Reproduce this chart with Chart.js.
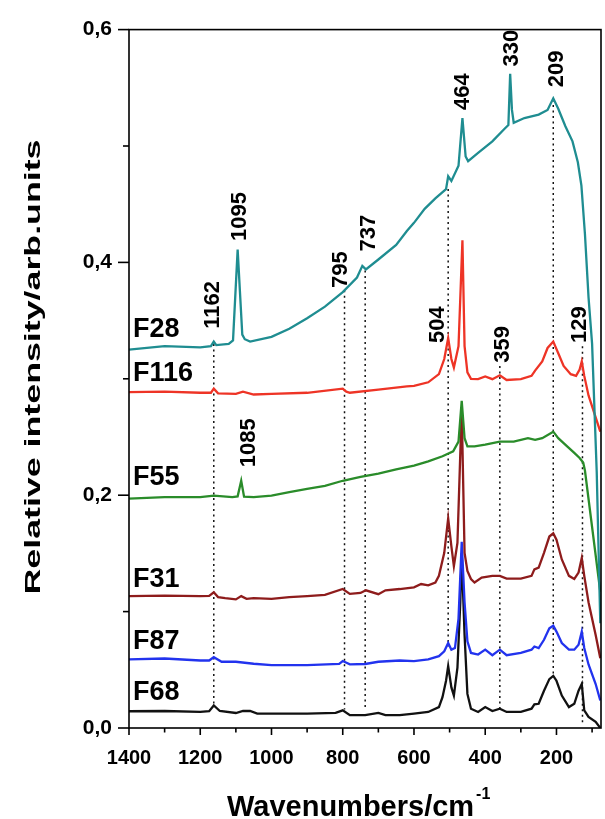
<!DOCTYPE html>
<html>
<head>
<meta charset="utf-8">
<script src="https://cdn.jsdelivr.net/npm/chart.js@4.4.1/dist/chart.umd.min.js"></script>
<style>
  body { margin: 0; background: #fff; }
  #wrap { width: 605px; height: 819px; }
</style>
</head>
<body>
<div id="wrap"><canvas id="myChart" width="605" height="819"></canvas></div>
<script>
// spectra (wavenumber cm-1, relative intensity)
const f28X = [1400, 1300, 1200, 1170, 1162, 1155, 1120, 1108, 1095, 1082, 1075, 1060, 1000, 950, 900, 850, 800, 760, 745, 735, 700, 650, 620, 600, 570, 540, 510, 504, 495, 475, 464, 455, 448, 420, 380, 345, 335, 330, 325, 320, 290, 250, 225, 209, 195, 175, 155, 140, 130, 120, 110, 100, 87, 77];
const f28Y = [0.325, 0.328, 0.327, 0.328, 0.332, 0.329, 0.330, 0.333, 0.411, 0.338, 0.334, 0.332, 0.336, 0.343, 0.352, 0.362, 0.3745, 0.387, 0.397, 0.394, 0.4025, 0.415, 0.427, 0.434, 0.446, 0.455, 0.463, 0.474, 0.470, 0.483, 0.524, 0.491, 0.487, 0.494, 0.504, 0.515, 0.518, 0.562, 0.531, 0.520, 0.524, 0.527, 0.531, 0.541, 0.532, 0.517, 0.504, 0.486, 0.466, 0.424, 0.370, 0.330, 0.220, 0.090];

const f116X = [1400, 1300, 1200, 1170, 1162, 1150, 1100, 1080, 1050, 1000, 900, 800, 790, 780, 700, 620, 600, 560, 530, 515, 504, 495, 488, 475, 464, 458, 450, 440, 420, 400, 380, 359, 340, 300, 270, 260, 240, 225, 209, 195, 180, 160, 145, 135, 129, 122, 110, 95, 77];
const f116Y = [0.2885, 0.289, 0.288, 0.288, 0.2915, 0.2875, 0.287, 0.289, 0.2865, 0.287, 0.288, 0.2915, 0.289, 0.288, 0.2907, 0.2935, 0.294, 0.297, 0.304, 0.317, 0.335, 0.317, 0.3097, 0.328, 0.419, 0.328, 0.3055, 0.300, 0.2997, 0.302, 0.2997, 0.303, 0.299, 0.2997, 0.3025, 0.307, 0.315, 0.3265, 0.332, 0.322, 0.311, 0.304, 0.3025, 0.308, 0.315, 0.3025, 0.2857, 0.2715, 0.2546];

const f55X = [1400, 1300, 1200, 1162, 1110, 1095, 1085, 1077, 1050, 1000, 950, 900, 850, 800, 750, 700, 650, 600, 560, 520, 490, 475, 466, 458, 450, 430, 400, 359, 320, 280, 260, 240, 209, 195, 170, 150, 135, 125, 120, 77];
const f55Y = [0.197, 0.1984, 0.1984, 0.1997, 0.1984, 0.199, 0.2124, 0.1988, 0.1984, 0.1997, 0.2026, 0.2054, 0.208, 0.2124, 0.2158, 0.2186, 0.2222, 0.2255, 0.229, 0.2335, 0.2377, 0.246, 0.281, 0.249, 0.242, 0.242, 0.2434, 0.246, 0.246, 0.249, 0.2476, 0.249, 0.2546, 0.249, 0.242, 0.2364, 0.232, 0.228, 0.221, 0.117];

const f31X = [1400, 1300, 1200, 1175, 1162, 1150, 1130, 1100, 1085, 1070, 1050, 1000, 950, 900, 850, 800, 780, 750, 735, 700, 680, 640, 600, 580, 560, 540, 530, 515, 504, 495, 488, 478, 466, 458, 450, 440, 430, 410, 380, 359, 340, 300, 270, 262, 250, 235, 220, 209, 200, 185, 165, 150, 138, 129, 122, 110, 90, 77];
const f31Y = [0.1133, 0.1138, 0.1133, 0.1135, 0.1166, 0.1125, 0.1116, 0.1105, 0.1133, 0.111, 0.1116, 0.111, 0.1124, 0.1133, 0.1144, 0.1194, 0.1152, 0.116, 0.1183, 0.115, 0.1183, 0.1194, 0.1209, 0.1237, 0.1225, 0.125, 0.1307, 0.1505, 0.180, 0.156, 0.139, 0.159, 0.274, 0.1505, 0.135, 0.128, 0.125, 0.1293, 0.1307, 0.1307, 0.1284, 0.1284, 0.1307, 0.1363, 0.1378, 0.1505, 0.1645, 0.1673, 0.1617, 0.1448, 0.1307, 0.128, 0.1335, 0.146, 0.1307, 0.108, 0.080, 0.060];

const f87X = [1400, 1300, 1200, 1175, 1162, 1140, 1100, 1050, 1000, 900, 810, 800, 780, 737, 700, 640, 600, 560, 530, 515, 504, 495, 485, 475, 466, 458, 450, 440, 420, 400, 380, 359, 340, 300, 270, 262, 250, 235, 220, 209, 200, 185, 165, 150, 138, 129, 122, 110, 90, 77];
const f87Y = [0.0589, 0.0597, 0.058, 0.058, 0.0608, 0.0569, 0.0569, 0.0552, 0.054, 0.054, 0.055, 0.0575, 0.0547, 0.055, 0.0569, 0.058, 0.0575, 0.0589, 0.0617, 0.0659, 0.073, 0.0673, 0.0687, 0.094, 0.160, 0.108, 0.0744, 0.0645, 0.0631, 0.0673, 0.0625, 0.0673, 0.0625, 0.0645, 0.0673, 0.070, 0.0687, 0.0758, 0.0856, 0.0879, 0.0828, 0.073, 0.0673, 0.0673, 0.0716, 0.0828, 0.0687, 0.0546, 0.0378, 0.0237];

const f68X = [1400, 1300, 1200, 1175, 1162, 1145, 1100, 1080, 1060, 1040, 1000, 900, 820, 800, 780, 737, 700, 680, 640, 600, 560, 530, 520, 510, 504, 495, 488, 478, 470, 466, 458, 450, 440, 420, 400, 380, 359, 340, 300, 270, 262, 250, 235, 220, 209, 200, 185, 165, 150, 138, 129, 122, 110, 90, 77];
const f68Y = [0.0144, 0.0146, 0.0138, 0.0145, 0.0194, 0.0146, 0.0129, 0.0146, 0.0146, 0.0124, 0.0124, 0.0124, 0.013, 0.0152, 0.011, 0.011, 0.0129, 0.011, 0.011, 0.0124, 0.0138, 0.018, 0.0265, 0.0406, 0.0532, 0.0349, 0.0279, 0.0518, 0.108, 0.150, 0.080, 0.0293, 0.0166, 0.0138, 0.018, 0.0146, 0.0166, 0.0138, 0.0138, 0.0166, 0.0203, 0.0208, 0.032, 0.042, 0.0448, 0.0406, 0.0279, 0.018, 0.0208, 0.032, 0.0378, 0.0152, 0.0096, 0.0053, 0.0];

const seriesNames = ["F28", "F116", "F55", "F31", "F87", "F68"];
const seriesLabelY = [0.3423, 0.3042, 0.2155, 0.1276, 0.0744, 0.0304];

// dotted guide lines at band positions
const guideX = [1162, 795, 737, 504, 359, 209, 127];
const guideTop = [0.330, 0.376, 0.393, 0.463, 0.311, 0.540, 0.328];
const guideBottom = [0.018, 0.016, 0.015, 0.070, 0.017, 0.045, 0.004];

// rotated band labels (text, centre position in data units)
const peakText = ["1162", "1095", "795", "737", "464", "330", "209", "504", "359", "129", "1085"];
const peakX = [1164, 1088, 805, 726, 462, 325, 198, 532, 350, 134, 1063];
const peakY = [0.3634, 0.4394, 0.3938, 0.4251, 0.5468, 0.584, 0.5662, 0.3465, 0.3296, 0.3465, 0.2451];

const xMajor = [1400, 1200, 1000, 800, 600, 400, 200];
const xMinor = [1300, 1100, 900, 700, 500, 300, 100];
const yMajor = [0, 0.2, 0.4, 0.6];
const yMinor = [0.1, 0.3, 0.5];

const colors = ["#1f8d91", "#ee3426", "#2a8c2a", "#8e1c1c", "#2233ee", "#111111"];
const FONT = '"Liberation Sans", Arial, sans-serif';

const pts = (xs, ys) => xs.map((x, i) => ({ x: x, y: ys[i] }));
const allX = [f28X, f116X, f55X, f31X, f87X, f68X];
const allY = [f28Y, f116Y, f55Y, f31Y, f87Y, f68Y];

const datasets = seriesNames.map((name, i) => ({
  label: name,
  data: pts(allX[i], allY[i]),
  borderColor: colors[i],
  borderWidth: 2.3,
  pointRadius: 0,
  tension: 0,
  fill: false,
}));

guideX.forEach((gx, i) => {
  datasets.push({
    label: "guide" + gx,
    data: [{ x: gx, y: guideTop[i] }, { x: gx, y: guideBottom[i] }],
    borderColor: "#111",
    borderWidth: 1.5,
    borderDash: [2, 3.5],
    pointRadius: 0,
    fill: false,
  });
});

const decor = {
  id: "decor",
  afterDraw(chart) {
    const { ctx, chartArea: a, scales: { x, y } } = chart;
    ctx.save();
    ctx.strokeStyle = "#000";
    ctx.lineWidth = 1.6;
    ctx.strokeRect(a.left, a.top, a.right - a.left, a.bottom - a.top);

    const tick = (x1, y1, x2, y2) => {
      ctx.beginPath(); ctx.moveTo(x1, y1); ctx.lineTo(x2, y2); ctx.stroke();
    };
    xMajor.forEach(v => { const p = x.getPixelForValue(v); tick(p, a.bottom, p, a.bottom + 7); });
    xMinor.forEach(v => { const p = x.getPixelForValue(v); tick(p, a.bottom, p, a.bottom + 4.5); });
    yMajor.forEach(v => { const p = y.getPixelForValue(v); tick(a.left, p, a.left - 11, p); });
    yMinor.forEach(v => { const p = y.getPixelForValue(v); tick(a.left, p, a.left - 6, p); });

    ctx.fillStyle = "#000";
    // band labels
    ctx.font = "bold 22px " + FONT;
    ctx.textAlign = "center";
    ctx.textBaseline = "middle";
    peakText.forEach((t, i) => {
      ctx.save();
      ctx.translate(x.getPixelForValue(peakX[i]), y.getPixelForValue(peakY[i]));
      ctx.rotate(-Math.PI / 2);
      ctx.fillText(t, 0, 0);
      ctx.restore();
    });

    // sample names
    ctx.font = "bold 27px " + FONT;
    ctx.textAlign = "left";
    seriesNames.forEach((n, i) => {
      ctx.fillText(n, a.left + 4, y.getPixelForValue(seriesLabelY[i]));
    });

    // x title with superscript
    ctx.textBaseline = "alphabetic";
    ctx.font = "bold 29px " + FONT;
    const main = "Wavenumbers/cm";
    ctx.fillText(main, 227, 816);
    const w = ctx.measureText(main).width;
    ctx.font = "bold 16px " + FONT;
    ctx.fillText("-1", 227 + w + 2, 799);

    // y title, stretched along its length like the original
    ctx.save();
    ctx.translate(34, 367);
    ctx.rotate(-Math.PI / 2);
    ctx.font = "bold 22px " + FONT;
    ctx.textAlign = "center";
    ctx.textBaseline = "middle";
    const yt = "Relative intensity/arb.units";
    ctx.scale(455 / ctx.measureText(yt).width, 1);
    ctx.fillText(yt, 0, 0);
    ctx.restore();

    ctx.restore();
  },
};

new Chart(document.getElementById("myChart"), {
  type: "line",
  data: { datasets },
  options: {
    responsive: false,
    animation: false,
    layout: { padding: { top: 18, right: 4, left: 0, bottom: 0 } },
    plugins: { legend: { display: false }, tooltip: { enabled: false } },
    scales: {
      x: {
        type: "linear",
        reverse: true,
        min: 75,
        max: 1400,
        grid: { display: false, drawTicks: false },
        border: { display: false },
        afterBuildTicks: s => { s.ticks = xMajor.map(v => ({ value: v })); },
        afterFit: s => { s.height = 91; },
        ticks: {
          padding: 18,
          color: "#000",
          font: { family: FONT, size: 20, weight: "bold" },
          maxRotation: 0,
          callback: v => String(v),
        },
      },
      y: {
        min: 0,
        max: 0.6,
        grid: { display: false, drawTicks: false },
        border: { display: false },
        afterBuildTicks: s => { s.ticks = yMajor.map(v => ({ value: v })); },
        afterFit: s => { s.width = 129; },
        ticks: {
          padding: 17,
          color: "#000",
          font: { family: FONT, size: 21, weight: "bold" },
          callback: v => v.toFixed(1).replace(".", ","),
        },
      },
    },
  },
  plugins: [decor],
});
</script>
</body>
</html>
